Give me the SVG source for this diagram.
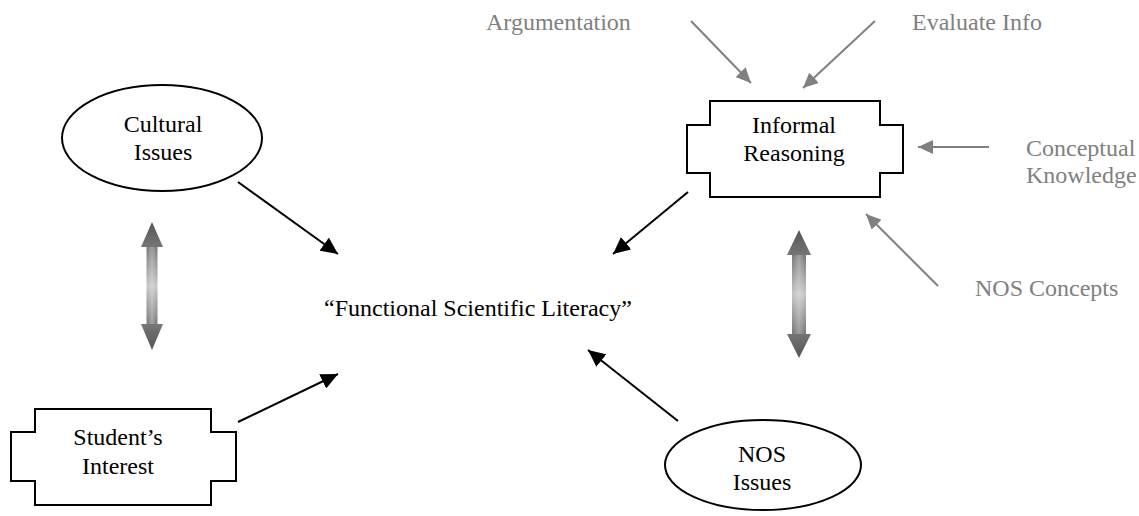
<svg xmlns="http://www.w3.org/2000/svg" width="1139" height="516" viewBox="0 0 1139 516">
<style>
text{font-family:"Liberation Serif","Times New Roman",serif;font-size:24px;fill:#000}
.g{fill:#808080}
.m{text-anchor:middle}
.shape{fill:#fff;stroke:#000;stroke-width:2}
.conn{stroke:#000;stroke-width:2;fill:none}
.gconn{stroke:#808080;stroke-width:2;fill:none}
.dbl{stroke:none}
</style>
<defs>
<marker id="ab" markerUnits="userSpaceOnUse" markerWidth="18" markerHeight="16" refX="17" refY="8" orient="auto">
<path d="M0,0 L17,8 L0,16 Z" fill="#000"/>
</marker>
<marker id="ag" markerUnits="userSpaceOnUse" markerWidth="16" markerHeight="14" refX="15" refY="7" orient="auto">
<path d="M0,0 L15,7 L0,14 Z" fill="#808080"/>
</marker>
<linearGradient id="gv" x1="0" y1="0" x2="0" y2="1">
<stop offset="0" stop-color="#555"/>
<stop offset="0.2" stop-color="#767676"/>
<stop offset="0.5" stop-color="#c4c4c4"/>
<stop offset="0.8" stop-color="#767676"/>
<stop offset="1" stop-color="#555"/>
</linearGradient>
<linearGradient id="gh" x1="0" y1="0" x2="1" y2="0">
<stop offset="0" stop-color="#fff" stop-opacity="0"/>
<stop offset="0.5" stop-color="#fff" stop-opacity="0.3"/>
<stop offset="1" stop-color="#fff" stop-opacity="0"/>
</linearGradient>
</defs>

<g id="connectors">
<line class="conn" x1="238" y1="182" x2="338" y2="254" marker-end="url(#ab)"/>
<line class="conn" x1="238" y1="422" x2="338" y2="374" marker-end="url(#ab)"/>
<line class="conn" x1="688" y1="192" x2="613" y2="254" marker-end="url(#ab)"/>
<line class="conn" x1="678" y1="421" x2="588" y2="350" marker-end="url(#ab)"/>
<line class="gconn" x1="691" y1="21" x2="751" y2="83" marker-end="url(#ag)"/>
<line class="gconn" x1="875" y1="21" x2="803" y2="88" marker-end="url(#ag)"/>
<line class="gconn" x1="989" y1="147" x2="918" y2="147" marker-end="url(#ag)"/>
<line class="gconn" x1="938" y1="286" x2="866" y2="214" marker-end="url(#ag)"/>
<path class="dbl" fill="url(#gv)" d="M152,222 L163,247 L157.5,247 L157.5,324 L163,324 L152,350 L141,324 L146.5,324 L146.5,247 L141,247 Z"/>
<rect class="dbl" fill="url(#gh)" x="146.5" y="247" width="11" height="77"/>
<path class="dbl" fill="url(#gv)" d="M799,230 L811,255 L806,255 L806,334 L811,334 L799,358 L787,334 L792,334 L792,255 L787,255 Z"/>
<rect class="dbl" fill="url(#gh)" x="792" y="255" width="14" height="79"/>
</g>

<g id="cultural">
<ellipse class="shape" cx="162" cy="138" rx="100" ry="53"/>
<text class="m" x="163" y="132">Cultural</text>
<text class="m" x="163" y="160">Issues</text>
</g>

<g id="student">
<path class="shape" d="M35,409 H211 V432 H236 V481 H211 V505 H35 V481 H11 V432 H35 Z"/>
<text class="m" x="118" y="445">Student’s</text>
<text class="m" x="118" y="474">Interest</text>
</g>

<g id="informal">
<path class="shape" d="M710,101 H880 V125 H903 V173 H880 V197 H710 V173 H687 V125 H710 Z"/>
<text class="m" x="794" y="133">Informal</text>
<text class="m" x="794" y="161">Reasoning</text>
</g>

<g id="nos">
<ellipse class="shape" cx="763" cy="465" rx="98" ry="45"/>
<text class="m" x="762" y="462">NOS</text>
<text class="m" x="762" y="490">Issues</text>
</g>

<g id="fsl">
<text x="324" y="316">“Functional Scientific Literacy”</text>
</g>

<g id="argumentation"><text class="g" x="486" y="30">Argumentation</text></g>
<g id="evaluate"><text class="g" x="912" y="30">Evaluate Info</text></g>
<g id="conceptual">
<text class="g" x="1026" y="156">Conceptual</text>
<text class="g" x="1026" y="183">Knowledge</text>
</g>
<g id="noscon"><text class="g" x="975" y="296">NOS Concepts</text></g>
</svg>
